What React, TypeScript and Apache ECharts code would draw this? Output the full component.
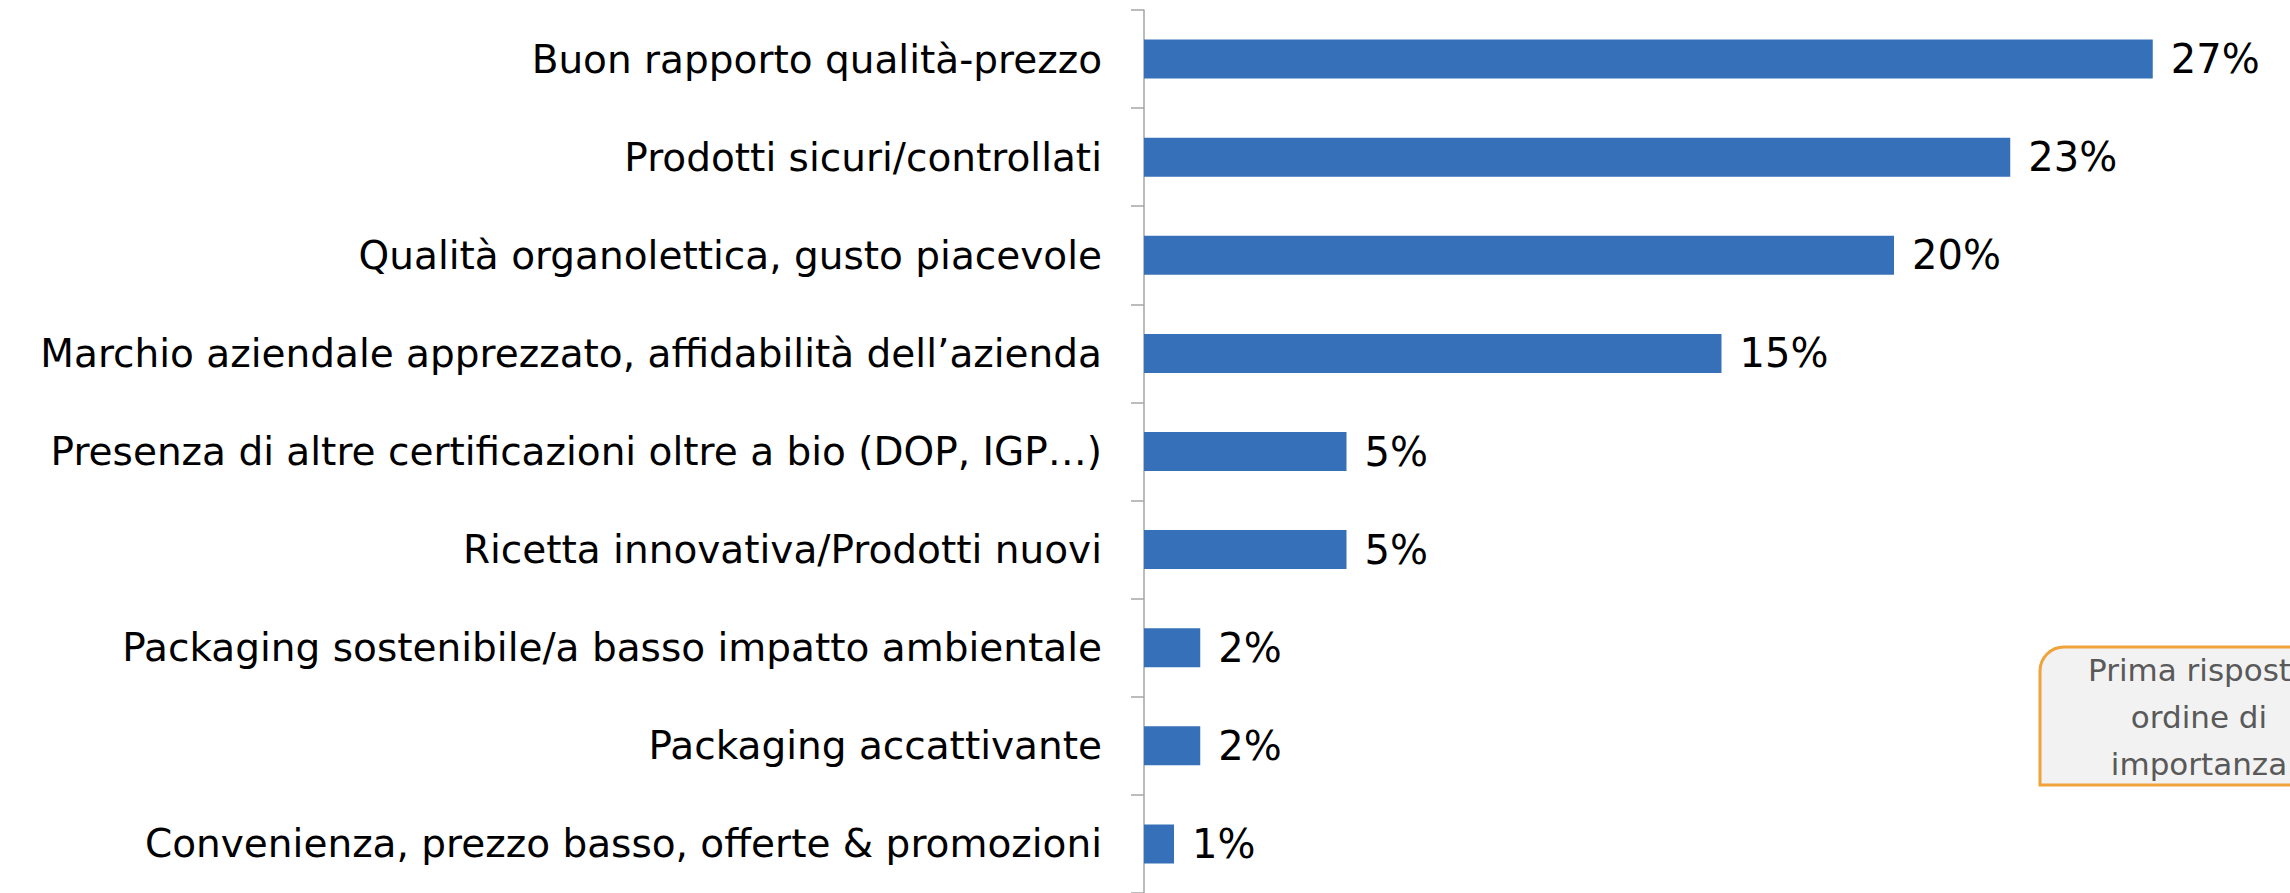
import React, { useEffect, useRef } from "react";
import * as echarts from "echarts";

const categories: string[] = [
  "Buon rapporto qualità-prezzo",
  "Prodotti sicuri/controllati",
  "Qualità organolettica, gusto piacevole",
  "Marchio aziendale apprezzato, affidabilità dell’azienda",
  "Presenza di altre certificazioni oltre a bio (DOP, IGP…)",
  "Ricetta innovativa/Prodotti nuovi",
  "Packaging sostenibile/a basso impatto ambientale",
  "Packaging accattivante",
  "Convenienza, prezzo basso, offerte & promozioni",
];

const values: number[] = [26.9, 23.1, 20.0, 15.4, 5.4, 5.4, 1.5, 1.5, 0.8];

const noteLines: string[] = ["Prima risposta", "ordine di", "importanza"];

const FONT = "'DejaVu Sans', sans-serif";

export default function App() {
  const ref = useRef<HTMLDivElement>(null);
  useEffect(() => {
    if (!ref.current) return;
    const chart = echarts.init(ref.current, undefined, { renderer: "svg" });
    chart.setOption({
      animation: false,
      backgroundColor: "#ffffff",
      grid: { left: 1144, top: 10, width: 1125, height: 884, containLabel: false },
      xAxis: {
        type: "value",
        min: 0,
        max: 30,
        show: false,
        splitLine: { show: false },
      },
      yAxis: {
        type: "category",
        data: categories,
        inverse: true,
        axisLine: { show: true, lineStyle: { color: "#a6a6a6", width: 1.5 } },
        axisTick: { show: true, length: 13, lineStyle: { color: "#a6a6a6", width: 1.5 } },
        axisLabel: {
          margin: 42,
          fontFamily: FONT,
          fontSize: 39,
          color: "#000000",
        },
      },
      series: [
        {
          type: "bar",
          data: values,
          barWidth: 39,
          itemStyle: { color: "#3670b9" },
          label: {
            show: true,
            position: "right",
            distance: 18,
            fontFamily: FONT,
            fontSize: 40,
            color: "#000000",
            formatter: (p: any) => Math.round(p.value) + "%",
          },
        },
      ],
      graphic: [
        {
          type: "group",
          children: [
            {
              type: "rect",
              shape: { x: 2040, y: 647, width: 320, height: 138, r: [24, 24, 0, 0] },
              style: { fill: "#f2f2f2", stroke: "#f0a23b", lineWidth: 3 },
            },
            {
              type: "text",
              x: 2199,
              y: 717,
              style: {
                text: noteLines.join("\n"),
                align: "center",
                verticalAlign: "middle",
                fontFamily: FONT,
                fontSize: 31,
                lineHeight: 47,
                fill: "#595959",
              },
            },
          ],
        },
      ],
    });
    return () => chart.dispose();
  }, []);
  return (
    <div
      ref={ref}
      style={{ position: "absolute", left: 0, top: 0, width: 2290, height: 893 }}
    />
  );
}
